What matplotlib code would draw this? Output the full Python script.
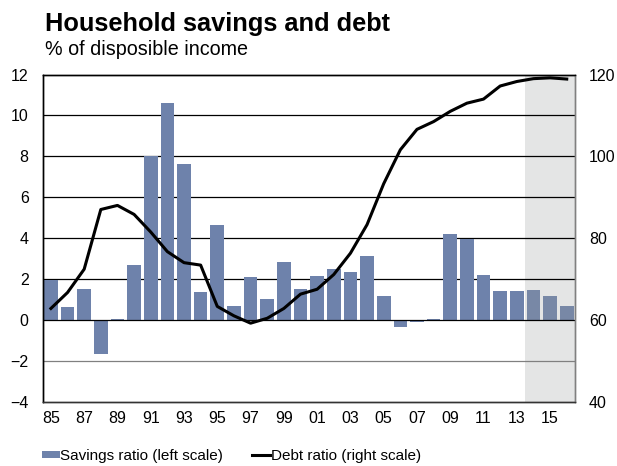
import numpy as np
import matplotlib.pyplot as plt

plt.rcParams['font.family'] = ['Liberation Sans', 'DejaVu Sans']

years = np.arange(1985, 2017)
savings = [1.95, 0.65, 1.53, -1.69, 0.03, 2.7, 8.0, 10.6, 7.64, 1.37,
           4.63, 0.7, 2.08, 1.02, 2.83, 1.5, 2.15, 2.5, 2.33, 3.12,
           1.17, -0.33, -0.08, 0.05, 4.2, 3.97, 2.2, 1.4, 1.4, 1.45,
           1.17, 0.7]
debt = [62.8, 66.7, 72.4, 87.0, 88.0, 85.8, 81.5, 76.7, 74.0, 73.4,
        63.3, 61.0, 59.2, 60.4, 62.8, 66.3, 67.5, 71.1, 76.3, 83.3,
        93.3, 101.6, 106.6, 108.5, 111.0, 113.0, 114.0, 117.2, 118.3, 119.0,
        119.2, 118.9]
forecast_start = 2013.5
xtick_years = np.arange(1985, 2016, 2)

fig = plt.figure(figsize=(6.17, 4.66), dpi=100)
ax = fig.add_axes([0.069, 0.138, 0.863, 0.702])

ax.axvspan(forecast_start, 2016.5, color='#e4e5e5', zorder=0, lw=0)
for v in [2, 4, 6, 8, 10]:
    ax.axhline(v, color='black', lw=0.9, zorder=1)
ax.axhline(-2, color='#808080', lw=0.9, zorder=1)

cols = ['#6e82ab' if y < forecast_start else '#7888a6' for y in years]
ax.bar(years, savings, width=0.82, color=cols, zorder=2, label='Savings ratio (left scale)')
ax.axhline(0, color='black', lw=0.9, zorder=3)

ax.set_xlim(1984.5, 2016.5)
ax.set_ylim(-4, 12)
ax.set_yticks(np.arange(-4, 13, 2))
ax.set_xticks(xtick_years)
ax.set_xticklabels([f'{y % 100:02d}' for y in xtick_years])
ax.tick_params(length=0, labelsize=11.5, pad=7)
ax.tick_params(axis='y', pad=10)

ax2 = ax.twinx()
ax2.plot(years, debt, color='black', lw=2.2, zorder=4, label='Debt ratio (right scale)')
ax2.set_ylim(40, 120)
ax2.set_yticks([40, 60, 80, 100, 120])
ax2.tick_params(length=0, labelsize=11.5, pad=10)

for a in (ax, ax2):
    a.spines['top'].set_color('black')
    a.spines['left'].set_color('black')
    a.spines['bottom'].set_color('#333333')
    a.spines['right'].set_color('#808080')
    for s in a.spines.values():
        s.set_linewidth(1.0)

fig.text(0.073, 0.933, 'Household savings and debt', fontsize=18.3, fontweight='bold')
fig.text(0.073, 0.882, '% of disposible income', fontsize=14.2)

h1, l1 = ax.get_legend_handles_labels()
h2, l2 = ax2.get_legend_handles_labels()
fig.legend(h1 + h2, l1 + l2, loc='center left', bbox_to_anchor=(0.068, 0.0215), ncol=2,
           frameon=False, fontsize=11, handlelength=1.15, handletextpad=0.05,
           columnspacing=1.9, handleheight=0.4, borderpad=0, borderaxespad=0)

fig.savefig('out.png', dpi=100)
